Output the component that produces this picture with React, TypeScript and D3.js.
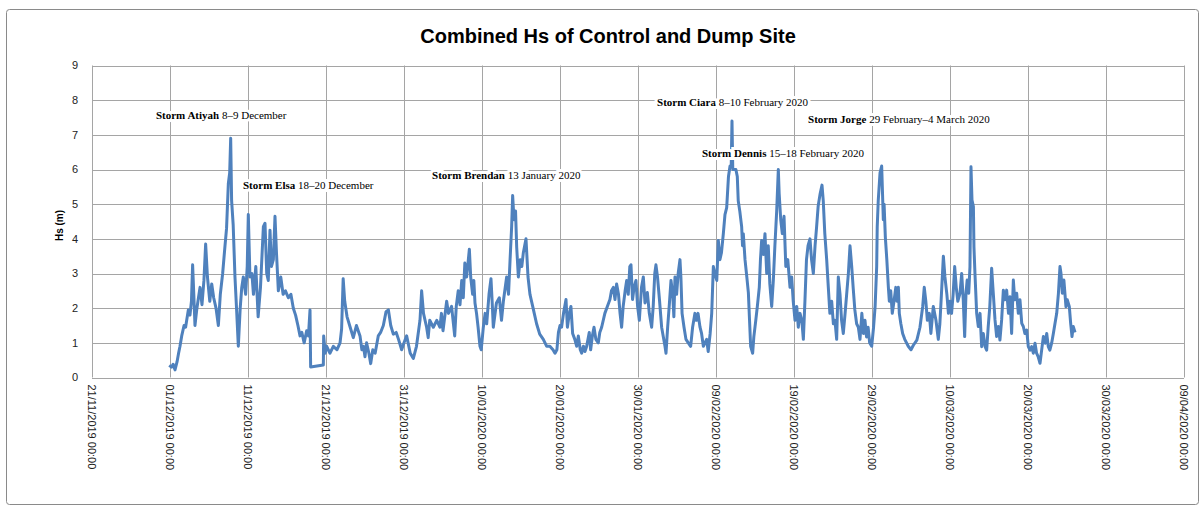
import * as d3 from "d3";

// Hs (m): [days since 01/12/2019 00:00, Hs]
const hsDecember: [number, number][] = [
  [-0.1, 0.35], [0.2, 0.3], [0.4, 0.38], [0.64, 0.22], [0.9, 0.45], [1.1, 0.7], [1.28, 0.9], [1.5, 1.2],
  [1.8, 1.5], [2.0, 1.45], [2.14, 1.65], [2.35, 1.95], [2.56, 1.8], [2.75, 2.2], [2.9, 3.25], [3.05, 2.4],
  [3.2, 1.5], [3.45, 2.0], [3.65, 2.3], [3.85, 2.6], [4.1, 2.1], [4.35, 2.8], [4.57, 3.85], [4.8, 2.9],
  [5.1, 2.2], [5.35, 2.7], [5.6, 2.3], [5.9, 2.0], [6.2, 1.5], [6.45, 2.4], [6.75, 3.0], [7.05, 3.8],
  [7.25, 4.3], [7.48, 5.6], [7.65, 5.9], [7.78, 6.9], [7.9, 5.1], [8.1, 4.4], [8.33, 2.9], [8.55, 1.9],
  [8.76, 0.9], [9.0, 2.0], [9.2, 2.6], [9.4, 2.9], [9.7, 2.4], [9.9, 3.2], [10.04, 4.7], [10.25, 2.9],
  [10.5, 3.0], [10.7, 2.4], [11.0, 3.2], [11.3, 1.75], [11.6, 2.6], [11.97, 4.35], [12.18, 4.45], [12.4, 3.0],
  [12.6, 2.8], [12.82, 4.25], [13.0, 3.2], [13.25, 3.4], [13.46, 4.65], [13.65, 3.6], [13.89, 2.5], [14.2, 2.9],
  [14.5, 2.4], [14.8, 2.5], [15.17, 2.3], [15.5, 2.4], [15.81, 2.0], [16.1, 1.8], [16.4, 1.5], [16.67, 1.2],
  [16.9, 1.3], [17.2, 1.0], [17.52, 1.35], [17.75, 1.2], [17.95, 1.95], [18.03, 0.3], [19.66, 0.36], [19.7, 1.2],
  [19.9, 0.7], [20.09, 0.9], [20.5, 0.7], [20.94, 0.9], [21.4, 0.8], [21.8, 1.0], [22.0, 1.4], [22.2, 2.85],
  [22.4, 2.2], [22.7, 1.75], [23.1, 1.45], [23.5, 1.15], [23.9, 1.5], [24.36, 1.2], [24.6, 0.8], [24.8, 0.9],
  [25.0, 0.6], [25.2, 1.0], [25.5, 0.7], [25.73, 0.4], [26.0, 0.8], [26.3, 0.7], [26.7, 1.2], [27.0, 1.3],
  [27.35, 1.5], [27.7, 1.9], [28.0, 1.95], [28.3, 1.5], [28.63, 1.25], [29.0, 1.3], [29.3, 1.1], [29.7, 0.8],
  [30.0, 1.0], [30.34, 1.2], [30.8, 0.7],
];

const hsJanuary: [number, number][] = [
  [31.2, 0.55], [31.6, 0.9], [32.05, 1.65], [32.26, 2.5], [32.5, 1.85], [32.9, 1.45], [33.1, 1.15], [33.3, 1.65],
  [33.76, 1.45], [34.2, 1.65], [34.6, 1.45], [34.8, 1.85], [35.0, 1.35], [35.47, 2.2], [35.7, 1.85], [36.1, 2.05],
  [36.5, 1.2], [36.7, 2.05], [36.95, 2.5], [37.18, 2.1], [37.4, 2.8], [37.6, 2.3], [37.8, 3.3], [38.03, 2.9],
  [38.38, 3.7], [38.55, 2.9], [38.8, 2.4], [38.95, 2.8], [39.1, 2.15], [39.3, 1.85], [39.5, 1.45], [39.74, 0.9],
  [39.9, 0.8], [40.17, 1.45], [40.4, 1.85], [40.6, 1.55], [40.9, 2.4], [41.15, 2.85], [41.3, 2.2], [41.45, 1.45],
  [41.85, 2.15], [42.22, 2.3], [42.5, 1.65], [42.74, 2.2], [43.16, 2.9], [43.4, 2.4], [43.6, 3.4], [43.8, 4.35],
  [43.93, 5.25], [44.1, 4.55], [44.3, 4.8], [44.45, 3.75], [44.66, 2.9], [44.9, 3.4], [45.1, 3.2], [45.3, 3.6],
  [45.64, 4.0], [45.9, 2.9], [46.15, 2.4], [46.5, 2.05], [46.7, 1.85], [47.0, 1.55], [47.4, 1.25], [47.86, 1.1],
  [48.3, 0.9], [48.7, 0.9], [49.1, 0.8], [49.36, 0.7], [49.6, 0.8], [49.8, 1.3], [50.0, 1.5], [50.2, 1.45],
  [50.45, 1.85], [50.77, 2.25], [50.95, 1.45], [51.2, 1.85], [51.4, 2.05], [51.62, 1.27], [51.9, 1.1], [52.14, 0.9],
  [52.35, 1.2], [52.6, 0.8], [52.78, 0.7], [53.0, 0.9], [53.2, 0.75], [53.42, 0.9], [53.75, 1.3], [53.93, 0.8],
  [54.15, 1.2], [54.36, 1.45], [54.6, 1.1], [54.91, 1.0], [55.1, 1.3], [55.34, 1.45], [55.75, 1.85], [56.07, 2.05],
  [56.4, 2.25], [56.6, 2.5], [56.84, 2.6], [57.05, 2.25], [57.26, 2.7], [57.5, 2.4], [57.7, 1.85], [57.9, 1.45],
  [58.1, 2.05], [58.35, 2.5], [58.55, 2.8], [58.75, 2.4], [58.95, 3.2], [59.1, 3.25], [59.3, 2.25], [59.5, 2.6],
  [59.74, 2.8], [59.95, 2.05], [60.17, 1.65], [60.45, 2.6], [60.68, 2.9], [60.9, 2.15], [61.2, 2.45], [61.45, 1.85],
  [61.75, 1.45],
];

const hsFebruary: [number, number][] = [
  [61.95, 2.05], [62.15, 3.0], [62.3, 3.25], [62.5, 2.9], [62.75, 2.25], [63.03, 1.45], [63.25, 1.17], [63.46, 0.9],
  [63.59, 0.7], [63.8, 1.45], [64.0, 2.05], [64.23, 2.8], [64.45, 2.4], [64.6, 1.75], [64.74, 2.9], [64.95, 2.4],
  [65.15, 3.0], [65.38, 3.4], [65.5, 2.9], [65.65, 1.85], [65.9, 1.45], [66.15, 1.1], [66.45, 1.0], [66.75, 0.9],
  [67.0, 1.45], [67.3, 1.85], [67.5, 1.65], [67.7, 1.85], [67.95, 1.45], [68.15, 1.27], [68.38, 0.9], [68.8, 1.1],
  [69.0, 0.75], [69.25, 1.27], [69.45, 1.85], [69.66, 3.2], [69.85, 3.0], [70.1, 2.8], [70.3, 3.95], [70.5, 3.4],
  [70.7, 3.6], [70.94, 4.15], [71.15, 4.7], [71.37, 4.9], [71.6, 5.8], [71.8, 6.1], [71.95, 6.1], [72.05, 7.4],
  [72.15, 6.0], [72.3, 6.0], [72.55, 6.0], [72.73, 5.8], [72.85, 5.1], [73.05, 4.8], [73.29, 4.35], [73.4, 3.8],
  [73.5, 4.15], [73.72, 3.4], [73.95, 2.9], [74.15, 2.45], [74.3, 1.65], [74.44, 0.9], [74.7, 0.7], [74.85, 1.17],
  [75.1, 1.65], [75.3, 2.05], [75.55, 2.6], [75.7, 3.4], [75.85, 3.95], [76.07, 3.55], [76.28, 4.15], [76.5, 3.0],
  [76.7, 3.8], [76.9, 2.7], [77.14, 2.05], [77.35, 2.8], [77.55, 3.8], [77.78, 4.8], [77.99, 6.0], [78.1, 5.3],
  [78.3, 4.55], [78.5, 4.15], [78.72, 4.65], [78.95, 3.2], [79.2, 3.4], [79.49, 2.6], [79.7, 2.9], [79.9, 2.2],
  [80.13, 1.65], [80.35, 2.05], [80.55, 1.45], [80.77, 1.85], [81.0, 1.65], [81.2, 1.1], [81.4, 2.2], [81.6, 3.4],
  [81.8, 3.8], [82.05, 4.0], [82.25, 3.4], [82.48, 3.0], [82.7, 3.8], [82.9, 4.35], [83.1, 4.95], [83.35, 5.3],
  [83.59, 5.55], [83.75, 5.1], [83.95, 4.15], [84.19, 3.4], [84.4, 2.6], [84.6, 1.85], [84.83, 2.2], [85.05, 1.55],
  [85.25, 1.65], [85.47, 1.1], [85.68, 2.9], [85.9, 2.4], [86.1, 1.65], [86.32, 1.27], [86.55, 1.85], [86.75, 2.4],
  [86.97, 3.0], [87.18, 3.8], [87.4, 3.2], [87.6, 2.55], [87.8, 1.95], [88.03, 1.55], [88.25, 1.45], [88.46, 1.1],
  [88.7, 1.85], [88.9, 1.27], [89.1, 1.65], [89.3, 1.17], [89.5, 1.45], [89.7, 1.0], [89.96, 0.9], [90.2, 1.45],
  [90.4, 2.05], [90.6, 3.2], [90.67, 4.35], [90.8, 5.1],
];

const hsMarch: [number, number][] = [
  [91.03, 5.9], [91.24, 6.1], [91.35, 5.3], [91.45, 4.55], [91.55, 5.0], [91.71, 4.05], [91.9, 3.4], [92.1, 2.6],
  [92.22, 2.2], [92.4, 2.5], [92.6, 1.85], [92.82, 2.2], [93.05, 2.6], [93.2, 2.2], [93.38, 2.6], [93.5, 1.85],
  [93.7, 1.55], [93.93, 1.27], [94.2, 1.1], [94.65, 0.9], [95.0, 0.8], [95.3, 0.93], [95.75, 1.08], [96.15, 1.45],
  [96.5, 2.05], [96.7, 2.6], [96.9, 2.2], [97.1, 1.65], [97.35, 1.85], [97.55, 1.27], [97.86, 2.05], [98.2, 1.65],
  [98.5, 1.1], [98.7, 1.55], [98.9, 2.4], [99.15, 3.5], [99.35, 2.9], [99.6, 2.4], [99.8, 1.85], [100.0, 2.2],
  [100.2, 1.85], [100.4, 2.4], [100.6, 3.2], [100.8, 2.6], [101.0, 2.2], [101.28, 2.43], [101.5, 3.0], [101.7, 2.24],
  [101.88, 1.18], [102.05, 2.43], [102.2, 2.81], [102.4, 2.43], [102.56, 3.2], [102.69, 6.08], [102.82, 5.12], [103.0, 4.93],
  [103.07, 3.77], [103.2, 3.0], [103.42, 1.85], [103.63, 1.47], [103.85, 1.85], [104.06, 0.89], [104.27, 1.27], [104.5, 0.89],
  [104.7, 0.79], [104.9, 1.47], [105.1, 2.04], [105.34, 3.15], [105.55, 2.43], [105.77, 1.66], [105.98, 1.18], [106.2, 1.47],
  [106.4, 1.08], [106.62, 1.66], [106.84, 2.52], [107.05, 2.24], [107.26, 2.52], [107.5, 1.85], [107.7, 2.33], [107.9, 1.27],
  [108.12, 2.81], [108.3, 2.24], [108.55, 2.43], [108.76, 1.85], [108.97, 2.24], [109.2, 1.56], [109.4, 1.47], [109.6, 1.27],
  [109.83, 1.37], [110.04, 0.89], [110.26, 0.79], [110.47, 0.89], [110.68, 0.7], [110.9, 0.99], [111.1, 0.7], [111.3, 0.6],
  [111.54, 0.41], [111.75, 0.79], [111.97, 1.18], [112.2, 0.99], [112.4, 1.27], [112.6, 0.89], [112.8, 0.79], [113.03, 0.99],
  [113.25, 1.27], [113.46, 1.56], [113.68, 1.85], [113.9, 2.43], [114.1, 3.2], [114.23, 3.0], [114.4, 2.43], [114.6, 2.81],
  [114.87, 2.04], [115.04, 2.24], [115.3, 2.04], [115.47, 1.56], [115.64, 1.18], [115.8, 1.47], [116.03, 1.3],
];

const xTickLabels = [
  "21/11/2019 00:00", "01/12/2019 00:00", "11/12/2019 00:00", "21/12/2019 00:00", "31/12/2019 00:00",
  "10/01/2020 00:00", "20/01/2020 00:00", "30/01/2020 00:00", "09/02/2020 00:00", "19/02/2020 00:00",
  "29/02/2020 00:00", "10/03/2020 00:00", "20/03/2020 00:00", "30/03/2020 00:00", "09/04/2020 00:00",
];
const yTicks = [0, 1, 2, 3, 4, 5, 6, 7, 8, 9];

// storm labels: bold name, plain dates, anchored at [days since 01/12/2019, Hs]
const stormNames = ["Storm Atiyah", "Storm Elsa", "Storm Brendan", "Storm Ciara", "Storm Jorge", "Storm Dennis"];
const stormDates = ["8–9 December", "18–20 December", "13 January 2020", "8–10 February 2020", "29 February–4 March 2020", "15–18 February 2020"];
const stormAnchors: [number, number][] = [[-1.8, 7.57], [9.36, 5.55], [33.6, 5.84], [62.44, 7.95], [81.8, 7.46], [68.2, 6.47]];

const parseTick = d3.utcParse("%d/%m/%Y %H:%M");
const t0 = Date.UTC(2019, 11, 1);
const toDate = (d: number) => new Date(t0 + d * 864e5);

export default function App() {
  const W = 1204, H = 507;
  const left = 92, right = 1184, top = 65.5, bottom = 377.5;

  const tickDates = xTickLabels.map((s) => parseTick(s) as Date);
  const x = d3.scaleUtc().domain([tickDates[0], tickDates[tickDates.length - 1]]).range([left, right]);
  const y = d3.scaleLinear().domain([0, 9]).range([bottom, top]);

  const series = [...hsDecember, ...hsJanuary, ...hsFebruary, ...hsMarch];
  const line = d3
    .line<[number, number]>()
    .x((d) => x(toDate(d[0])))
    .y((d) => y(d[1]));

  const grid = "#a5a5a5";

  return (
    <svg width={W} height={H} style={{ position: "absolute", left: 0, top: 0, background: "#fff" }}>
      <rect x={6.5} y={9.5} width={1192} height={495} rx={3} fill="#fff" stroke="#8a8a8a" />

      <text x={608} y={43} textAnchor="middle" fontFamily="Liberation Sans, Arial, sans-serif" fontWeight="bold" fontSize={20} fill="#000">
        Combined Hs of Control and Dump Site
      </text>

      {/* horizontal gridlines + y labels */}
      {yTicks.map((t) => (
        <g key={"y" + t}>
          <line x1={left} x2={right} y1={Math.round(y(t)) + 0.5} y2={Math.round(y(t)) + 0.5} stroke={grid} />
          <text x={78} y={y(t)} dy="0.35em" textAnchor="end" fontFamily="Liberation Sans, Arial, sans-serif" fontSize={11} fill="#222">
            {t}
          </text>
        </g>
      ))}

      {/* vertical gridlines + rotated date labels */}
      {tickDates.map((d, i) => {
        const px = Math.round(x(d)) + 0.5;
        return (
          <g key={"x" + i}>
            <line x1={px} x2={px} y1={top} y2={bottom} stroke={grid} />
            <text
              transform={`translate(${px - 1},${bottom + 7}) rotate(90)`}
              dy="0.35em"
              fontFamily="Liberation Sans, Arial, sans-serif"
              fontSize={11}
              fill="#222"
            >
              {xTickLabels[i]}
            </text>
          </g>
        );
      })}

      <text
        transform={`translate(63,${(top + bottom) / 2 + 4}) rotate(-90)`}
        textAnchor="middle"
        fontFamily="Liberation Sans, Arial, sans-serif"
        fontWeight="bold"
        fontSize={10}
        fill="#000"
      >
        Hs (m)
      </text>

      <path d={line(series) ?? ""} fill="none" stroke="#4f81bd" strokeWidth={3} strokeLinejoin="round" />

      {/* storm annotations, white halo hides gridlines behind them */}
      {stormNames.map((name, i) => {
        const ax = x(toDate(stormAnchors[i][0]));
        const ay = y(stormAnchors[i][1]);
        return (
          <text key={name} x={ax} y={ay} dy="0.35em" fontFamily="Liberation Serif, Times New Roman, serif" fontSize={11} fill="#000"
            stroke="#fff" strokeWidth={6} strokeLinejoin="miter" paintOrder="stroke">
            <tspan fontWeight="bold">{name}</tspan> {stormDates[i]}
          </text>
        );
      })}
    </svg>
  );
}
